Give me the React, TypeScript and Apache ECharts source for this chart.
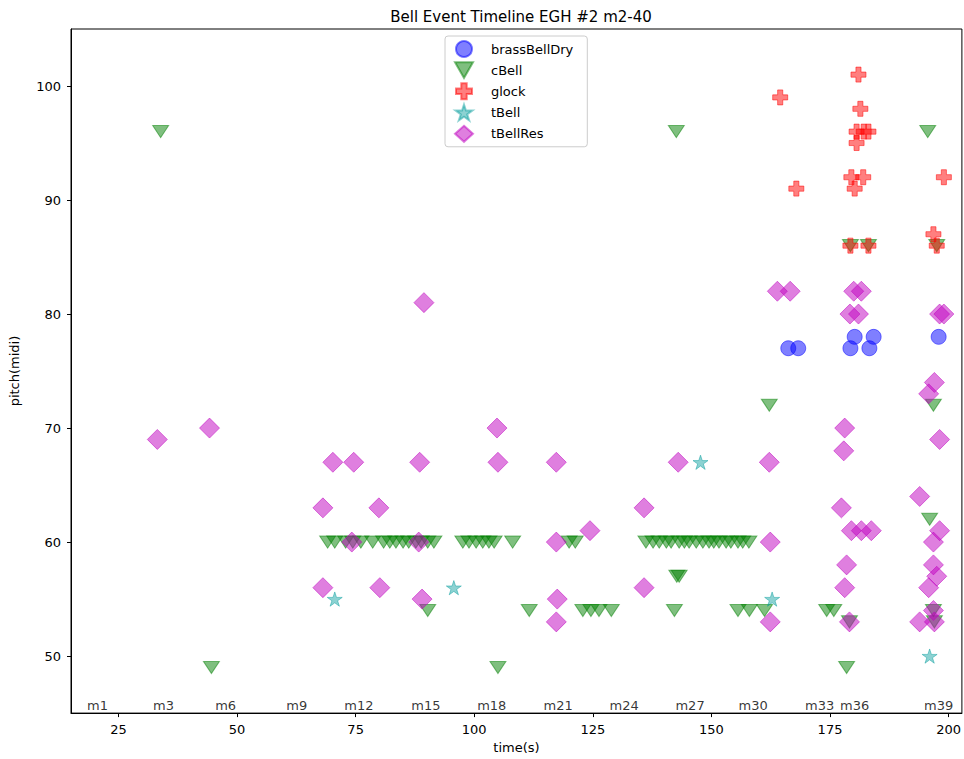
import React, { useEffect, useRef } from "react";
import * as echarts from "echarts";

const seriesNames = ["brassBellDry", "cBell", "glock", "tBell", "tBellRes"];

const brassBellDry: number[][] = [
  [166.2, 77], [168.3, 77], [179.3, 77], [180.2, 78], [183.3, 77], [184.2, 78], [197.9, 78],
];

const cBell: number[][] = [
  [33.9, 96], [142.6, 96], [195.6, 96],
  [44.6, 49], [105, 49], [178.5, 49],
  [69.1, 60], [70.6, 60], [72.9, 60], [74.4, 60], [76.1, 60], [78.6, 60], [80.9, 60], [82.2, 60],
  [83.5, 60], [85.0, 60], [86.2, 60], [87.7, 60], [88.8, 60], [90.2, 60], [91.5, 60],
  [97.6, 60], [98.9, 60], [100.4, 60], [101.8, 60], [103.1, 60], [104.2, 60], [108.1, 60],
  [120, 60], [121.3, 60],
  [136.2, 60], [137.7, 60], [139.0, 60], [140.5, 60], [141.5, 60], [143.2, 60], [144.3, 60],
  [145.3, 60], [146.8, 60], [148.2, 60], [149.5, 60], [150.5, 60], [151.6, 60], [153.1, 60],
  [154.1, 60], [155.6, 60], [156.6, 60], [157.9, 60],
  [142.7, 57], [143.2, 57],
  [90.2, 54], [111.6, 54], [122.9, 54], [124.6, 54], [126.3, 54], [128.9, 54], [142.2, 54],
  [155.6, 54], [158, 54], [161.2, 54], [174.3, 54], [175.8, 54], [196.8, 54],
  [162.2, 72], [196.8, 72], [196, 62],
  [179.3, 86], [183.1, 86], [197.5, 86],
  [179.1, 53], [197, 53],
];

const glock: number[][] = [
  [164.5, 99], [167.9, 91], [181, 101], [181.4, 98],
  [180.6, 96], [182.1, 96], [183.1, 96], [180.6, 95],
  [179.5, 92], [182, 92], [180.2, 91], [199, 92], [196.8, 87],
  [179.3, 86], [183.1, 86], [197.5, 86],
];

const tBell: number[][] = [
  [70.6, 55], [95.7, 56], [147.7, 67], [162.8, 55], [196, 50],
];

const tBellRes: number[][] = [
  [33.2, 69], [44.2, 70], [68.1, 63], [70.2, 67], [68.1, 56], [74.2, 60], [74.6, 67],
  [79.9, 63], [80.1, 56], [88.5, 67], [88.3, 60], [89, 55], [89.4, 81],
  [104.8, 70], [105, 67], [117.3, 67], [117.3, 60], [117.5, 55], [117.3, 53],
  [124.4, 61], [135.8, 63], [135.8, 56], [143, 67],
  [162.2, 67], [162.4, 60], [162.4, 53], [163.9, 82], [166.6, 82],
  [180, 82], [181.6, 82], [179.2, 80], [181, 80], [198.1, 80], [199, 80],
  [197, 74], [195.8, 73], [178.1, 70], [177.9, 68], [198.1, 69],
  [177.4, 63], [179.5, 61], [181.6, 61], [183.7, 61], [178.5, 58], [178.1, 56], [179.1, 53],
  [193.9, 64], [198.1, 61], [196.8, 60], [196.8, 58], [197.5, 57], [195.8, 56],
  [196.8, 54], [193.9, 53], [197, 53],
];

const measureLabels = ["m1", "m3", "m6", "m9", "m12", "m15", "m18", "m21", "m24", "m27", "m30", "m33", "m36", "m39"];
const measureTimes = [20.6, 34.5, 47.6, 62.6, 75.7, 89.8, 103.7, 117.7, 131.6, 145.5, 158.8, 172.8, 180.2, 197.9];

const xTicks = [25, 50, 75, 100, 125, 150, 175, 200];
const yTicks = [50, 60, 70, 80, 90, 100];

const FONT = "DejaVu Sans";

const triDown = "path://M0,0 L10,0 L5,8.66 Z";
const plus = "path://M3.3,0 H6.7 V3.3 H10 V6.7 H6.7 V10 H3.3 V6.7 H0 V3.3 H3.3 Z";
const star =
  "path://M50,0 L61.17,34.63 L97.55,34.55 L68.07,55.87 L79.39,90.45 L50,69 L20.61,90.45 L31.93,55.87 L2.45,34.55 L38.83,34.63 Z";

export default function App() {
  const ref = useRef<HTMLDivElement>(null);
  useEffect(() => {
    document.body.style.margin = "0";
    if (!ref.current) return;
    const chart = echarts.init(ref.current, undefined, { renderer: "svg" });
    const mk = (name: string, data: number[][], symbol: string, size: any, rgb: string, alpha: number) => ({
      name,
      type: "scatter",
      data,
      symbol,
      symbolSize: size,
      symbolKeepAspect: true,
      itemStyle: {
        color: `rgba(${rgb},${alpha})`,
        borderColor: `rgba(${rgb},${alpha})`,
        borderWidth: 1,
        opacity: 1,
      },
      emphasis: { disabled: true },
    });
    chart.setOption({
      animation: false,
      textStyle: { fontFamily: FONT },
      title: {
        text: "Bell Event Timeline EGH #2 m2-40",
        left: 516,
        textAlign: "center",
        top: 4,
        textStyle: { fontFamily: FONT, fontSize: 15, fontWeight: "normal", color: "#000" },
      },
      legend: {
        orient: "vertical",
        left: 445,
        top: 36,
        data: seriesNames,
        itemWidth: 18,
        itemHeight: 16,
        itemGap: 3.3,
        padding: [4, 14, 4, 9],
        borderColor: "#cccccc",
        borderWidth: 1,
        borderRadius: 3,
        backgroundColor: "rgba(255,255,255,0.8)",
        textStyle: { fontFamily: FONT, fontSize: 13, color: "#000", padding: [0, 0, 0, 13] },
      },
      grid: {
        left: 70,
        right: 2,
        top: 29,
        bottom: 45,
        show: true,
        borderColor: "#000",
        borderWidth: 1,
        backgroundColor: "transparent",
      },
      xAxis: {
        type: "value",
        min: 15,
        max: 202.8,
        name: "time(s)",
        nameLocation: "middle",
        nameGap: 27,
        nameTextStyle: { fontFamily: FONT, fontSize: 13, color: "#000" },
        splitLine: { show: false },
        axisLine: { show: true, lineStyle: { color: "#000" } },
        axisTick: { show: true, length: 4, customValues: xTicks, lineStyle: { color: "#000" } },
        axisLabel: { customValues: xTicks, margin: 10, fontFamily: FONT, fontSize: 13, color: "#000" },
      },
      yAxis: {
        type: "value",
        min: 45,
        max: 105,
        name: "pitch(midi)",
        nameLocation: "middle",
        nameGap: 50,
        nameTextStyle: { fontFamily: FONT, fontSize: 13, color: "#000" },
        splitLine: { show: false },
        axisLine: { show: true, lineStyle: { color: "#000" } },
        axisTick: { show: true, length: 4, customValues: yTicks, lineStyle: { color: "#000" } },
        axisLabel: { customValues: yTicks, margin: 10, fontFamily: FONT, fontSize: 13, color: "#000" },
      },
      series: [
        mk("brassBellDry", brassBellDry, "circle", 15, "0,0,255", 0.5),
        mk("cBell", cBell, triDown, [16, 14], "0,128,0", 0.5),
        mk("glock", glock, plus, 15, "255,0,0", 0.5),
        mk("tBell", tBell, star, 15, "0,155,155", 0.45),
        mk("tBellRes", tBellRes, "diamond", 20, "191,0,191", 0.5),
        {
          name: "measures",
          type: "scatter",
          data: measureTimes.map((t, i) => ({ value: [t, 45], name: measureLabels[i] })),
          symbolSize: 0,
          silent: true,
          label: {
            show: true,
            position: "top",
            distance: 1,
            formatter: (p: any) => p.name,
            fontFamily: FONT,
            fontSize: 13,
            color: "#000",
          },
        },
      ],
    });
    return () => chart.dispose();
  }, []);
  return <div ref={ref} style={{ width: 964, height: 759 }} />;
}
